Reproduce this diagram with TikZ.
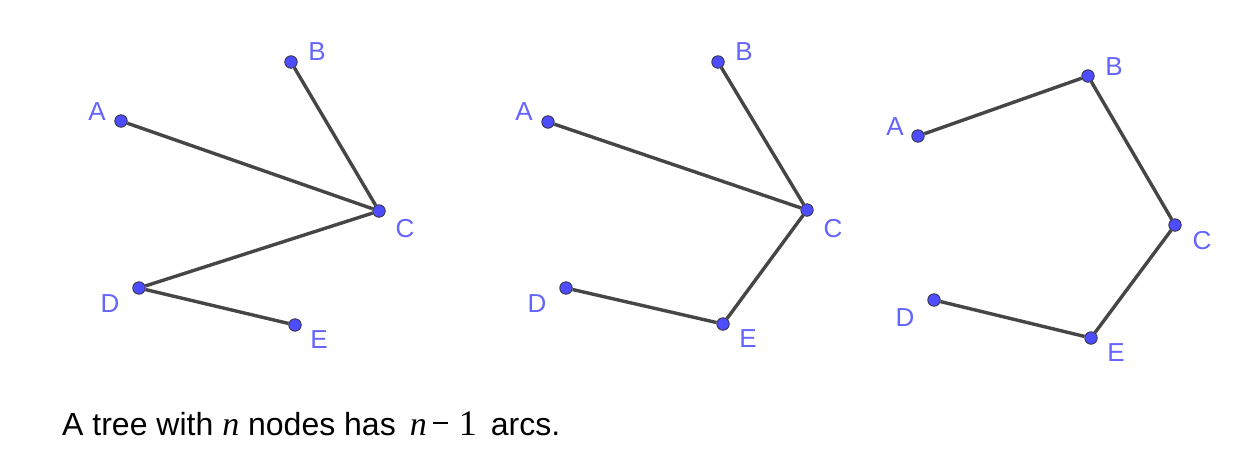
\documentclass[tikz,border=0pt]{standalone}
\usepackage{fontspec}
\setmainfont{Liberation Sans}
\newfontfamily\tnr{Liberation Serif}
\begin{document}
\begin{tikzpicture}[x=1pt,y=-1pt,
  pt/.style={circle,draw=black!80,line width=0.8pt,fill=dotblue,inner sep=0pt,minimum size=12.5pt},
  lbl/.style={text=lblblue,font=\fontsize{26}{26}\selectfont,inner sep=0pt},
  arc/.style={draw=edgegray,line width=3.4pt}]
\definecolor{dotblue}{HTML}{4D4DFF}
\definecolor{lblblue}{HTML}{6464FF}
\definecolor{edgegray}{HTML}{464646}
\useasboundingbox (0,0) rectangle (1236,450);
% Tree 1
\node[pt] (A1) at (121,121) {};
\node[pt] (B1) at (291,62) {};
\node[pt] (C1) at (379,211) {};
\node[pt] (D1) at (139,288) {};
\node[pt] (E1) at (295,325) {};
% Tree 2
\node[pt] (A2) at (548,122) {};
\node[pt] (B2) at (718,62) {};
\node[pt] (C2) at (807,210) {};
\node[pt] (D2) at (566,288) {};
\node[pt] (E2) at (723,324) {};
% Tree 3
\node[pt] (A3) at (918,136) {};
\node[pt] (B3) at (1088,76) {};
\node[pt] (C3) at (1175,225) {};
\node[pt] (D3) at (934,300) {};
\node[pt] (E3) at (1091,338) {};
\draw[arc] (A1) -- (C1);
\draw[arc] (B1) -- (C1);
\draw[arc] (C1) -- (D1);
\draw[arc] (D1) -- (E1);
\draw[arc] (A2) -- (C2);
\draw[arc] (B2) -- (C2);
\draw[arc] (C2) -- (E2);
\draw[arc] (D2) -- (E2);
\draw[arc] (A3) -- (B3);
\draw[arc] (B3) -- (C3);
\draw[arc] (C3) -- (E3);
\draw[arc] (D3) -- (E3);
% labels
\node[lbl] (lA1) at (97,112) {A};
\node[lbl] (lB1) at (317,52) {B};
\node[lbl] (lC1) at (405,229) {C};
\node[lbl] (lD1) at (110,304) {D};
\node[lbl] (lE1) at (319,340) {E};
\node[lbl] (lA2) at (524,112) {A};
\node[lbl] (lB2) at (744,52) {B};
\node[lbl] (lC2) at (833,229) {C};
\node[lbl] (lD2) at (537,304) {D};
\node[lbl] (lE2) at (748,339) {E};
\node[lbl] (lA3) at (895,127) {A};
\node[lbl] (lB3) at (1114,67) {B};
\node[lbl] (lC3) at (1202,241) {C};
\node[lbl] (lD3) at (905,318) {D};
\node[lbl] (lE3) at (1116,353) {E};
\node[anchor=base west,inner sep=0pt,font=\fontsize{32}{32}\selectfont] (cap) at (62,435)
  {A tree with {\tnr\itshape\fontsize{34}{34}\selectfont n} nodes has\hspace{14pt}{\tnr\itshape\fontsize{34}{34}\selectfont n}\hspace{6pt}\rule[11pt]{15pt}{1.6pt}\hspace{11pt}{\tnr\fontsize{36}{36}\selectfont 1}\hspace{14pt}arcs.};
\end{tikzpicture}
\end{document}
